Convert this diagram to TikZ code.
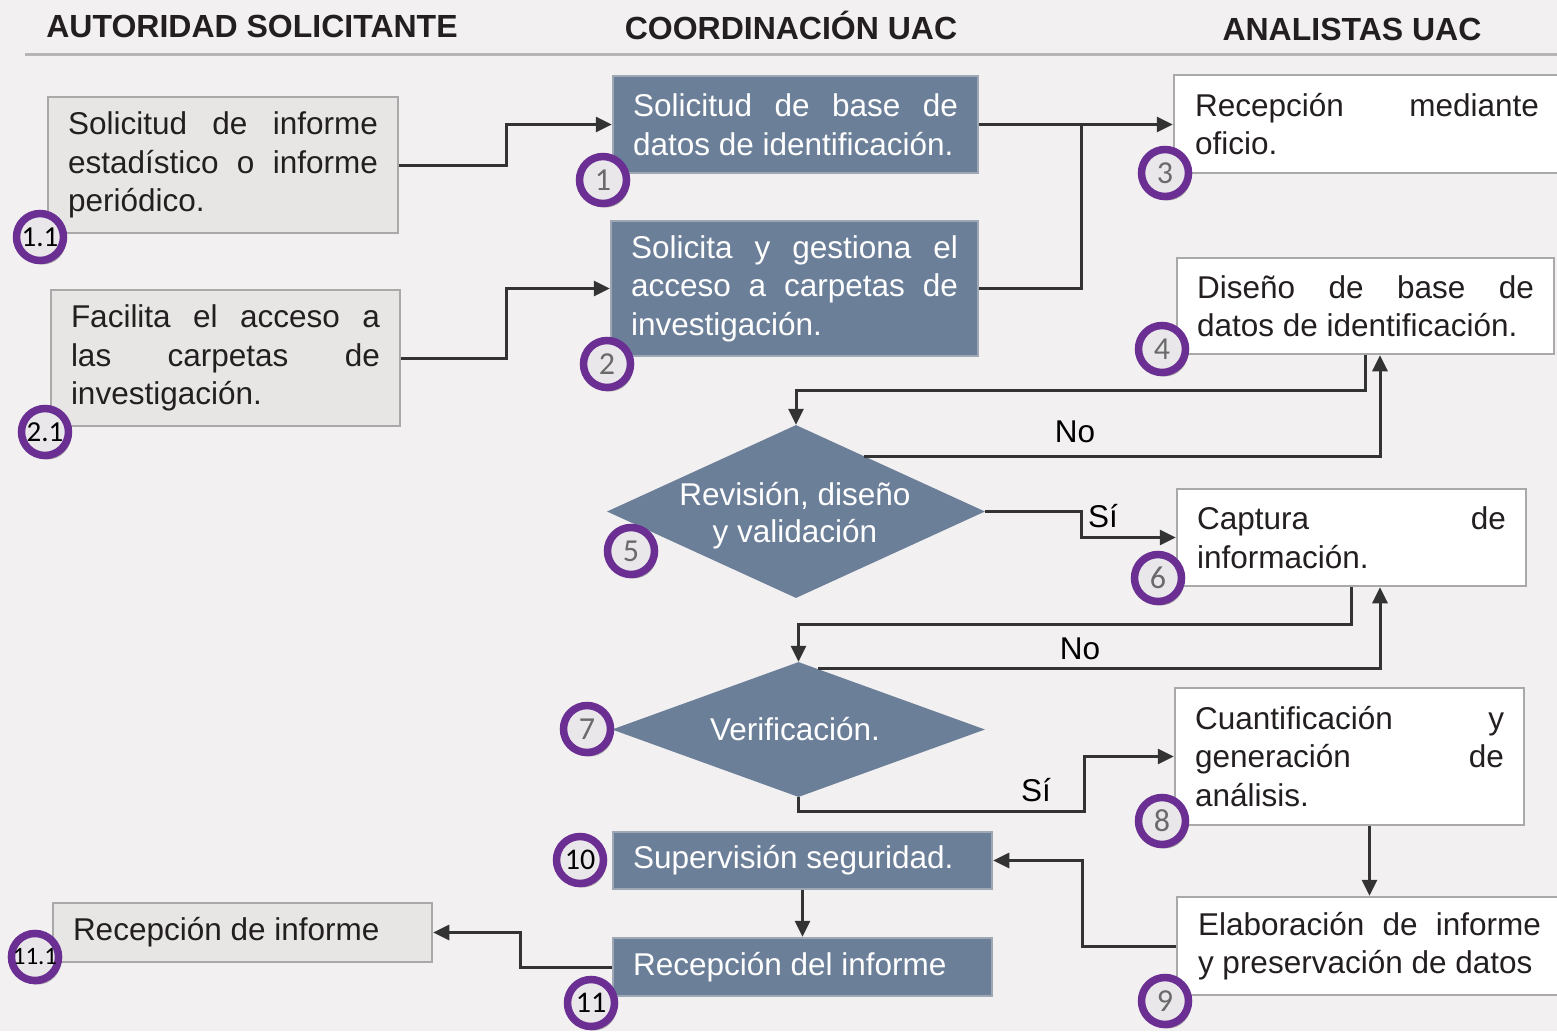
\documentclass[tikz,border=0pt]{standalone}
\usepackage{fontspec}
\setmainfont{Liberation Sans}
\newfontfamily\numfont{Carlito}
\usetikzlibrary{arrows.meta,shapes.geometric,shadows,calc}
\definecolor{bg}{HTML}{F2F0F1}
\definecolor{lboxf}{HTML}{E8E5E5}
\definecolor{lborder}{HTML}{A9A9A9}
\definecolor{bluef}{HTML}{6C7F99}
\definecolor{blueb}{HTML}{9EA7B4}
\definecolor{txt}{HTML}{231F20}
\definecolor{linec}{HTML}{333333}
\definecolor{purp}{HTML}{6B2E93}
\definecolor{badgef}{HTML}{E9E7E9}
\definecolor{numgray}{HTML}{6A6A6A}
\definecolor{hdrline}{HTML}{B5B5B5}
\begin{document}
\begin{tikzpicture}[x=1pt,y=-1pt,
  base/.style={font=\fontsize{31.5}{38.5}\selectfont, inner xsep=20pt, inner ysep=0pt, align=justify, line width=2.5pt},
  leftbox/.style={base, fill=lboxf, draw=lborder, text=txt},
  bluebox/.style={base, fill=bluef, draw=blueb, text=white},
  whitebox/.style={base, fill=white, draw=lborder, text=txt},
  dmd/.style={diamond, fill=bluef, inner sep=0pt},
  dtext/.style={font=\fontsize{31.5}{37}\selectfont, text=white, align=center, inner sep=0pt},
  hdr/.style={font=\fontsize{32}{36}\selectfont\bfseries, text=txt, inner sep=0pt},
  lbl/.style={font=\fontsize{31.5}{36}\selectfont, text=black, inner sep=0pt},
  plain/.style={line width=3pt, draw=linec},
  conn/.style={plain, -{Triangle[length=16pt,width=15pt]}},
  badge/.style={circle, draw=purp, line width=7.5pt, fill=badgef, minimum size=47pt, inner sep=0pt,
    drop shadow={shadow xshift=2.5pt, shadow yshift=-4pt, opacity=0.45, fill=black!70}},
  bone/.style={badge, font=\numfont\fontsize{32}{32}\selectfont, text=numgray},
  btwo/.style={badge, font=\numfont\fontsize{30}{30}\selectfont, text=black},
  bthree/.style={badge, font=\numfont\fontsize{29}{29}\selectfont, text=black},
  bfour/.style={badge, font=\numfont\fontsize{25}{25}\selectfont, text=black}
]
\useasboundingbox (0,0) rectangle (1557,1031);
\fill[bg] (0,0) rectangle (1557,1031);

% headers
\node[hdr] (h1) at (252,26) {AUTORIDAD SOLICITANTE};
\node[hdr] (h2) at (791,25) {COORDINACIÓN UAC};
\node[hdr] (h3) at (1352,29) {ANALISTAS UAC};
\draw[line width=3pt, hdrline] (25,54) -- (1557,54);

% left column
\node[leftbox, minimum width=350pt, minimum height=136pt, text width=310pt] (a11) at (223,165)
  {Solicitud de informe\linebreak estadístico o informe\linebreak periódico.};
\node[leftbox, minimum width=349pt, minimum height=136pt, text width=309pt] (a21) at (225.5,358)
  {Facilita el acceso a\linebreak las carpetas de\linebreak investigación.};
\node[leftbox, minimum width=379pt, minimum height=59pt, text width=339pt] (a111) at (242.5,932.5)
  {Recepción de informe};

% middle column
\node[bluebox, minimum width=365pt, minimum height=97pt, text width=325pt] (b1) at (795.5,124.5)
  {Solicitud de base de\linebreak datos de identificación.};
\node[bluebox, minimum width=367pt, minimum height=135pt, text width=327pt] (b2) at (794.5,288.5)
  {Solicita y gestiona el\linebreak acceso a carpetas de\linebreak investigación.};
\node[dmd, minimum width=378pt, minimum height=173pt] (d5) at (796,511.5) {};
\node[dtext] (t5) at (795,516) {Revisión, diseño\\ y validación};
\node[dmd, minimum width=373pt, minimum height=135pt] (d7) at (798.5,729.5) {};
\node[dtext] (t7) at (795,729) {Verificación.};
\node[bluebox, minimum width=379pt, minimum height=57pt, text width=339pt] (b10) at (802.5,860.5)
  {Supervisión seguridad.};
\node[bluebox, minimum width=379pt, minimum height=58pt, text width=339pt] (b11) at (802.5,967)
  {Recepción del informe};

% right column
\node[whitebox, minimum width=386pt, minimum height=98pt, text width=344pt, inner xsep=21pt] (w3) at (1367,124)
  {Recepción mediante\linebreak oficio.};
\node[whitebox, minimum width=377pt, minimum height=96pt, text width=337pt] (w4) at (1365.5,306)
  {Diseño de base de\linebreak datos de identificación.};
\node[whitebox, minimum width=349pt, minimum height=97pt, text width=309pt] (w6) at (1351.5,537.5)
  {Captura de\linebreak información.};
\node[whitebox, minimum width=349pt, minimum height=137pt, text width=309pt] (w8) at (1349.5,756.5)
  {Cuantificación y\linebreak generación de\linebreak análisis.};
\node[whitebox, minimum width=385pt, minimum height=98pt, text width=343pt, inner xsep=21pt] (w9) at (1369.5,946)
  {Elaboración de informe\linebreak y preservación de datos};

% connectors
\coordinate (j1) at (1081,124.5);
\draw[conn] (a11.east) -- ++(107,0) |- (b1.west);
\draw[conn] (a21.east) -- ++(105,0) |- (b2.west);
\draw[conn] (b1.east) -- (w3.west |- b1.east);
\draw[plain] (b2.east) -| (j1);
\draw[conn] (w4.south) -- ++(0,35) -| (d5.north);
\coordinate (d5no) at ($(d5.north)!0.36!(d5.east)$);
\draw[conn] (d5no) -| ([xshift=14.5pt]w4.south);
\draw[conn] (d5.east) -- ++(96,0) |- (w6.west);
\draw[conn] (w6.south) -- ++(0,37) -| (d7.north);
\coordinate (d7no) at ($(d7.north)!0.105!(d7.east)$);
\draw[conn] (d7no) -| ([xshift=28.5pt]w6.south);
\draw[conn] (d7.south) -- ++(0,14) -- ++(286,0) |- (w8.west);
\draw[conn] (w8.south -| w9.north) -- (w9.north);
\draw[conn] (w9.west) -- ++(-93,0) |- (b10.east);
\draw[conn] (b10.south) -- (b11.north);
\draw[conn] (b11.west) -- ++(-91,0) |- (a111.east);

% labels
\node[lbl] (no1) at (1075,432) {No};
\node[lbl] (si1) at (1103,516) {Sí};
\node[lbl] (no2) at (1080,649) {No};
\node[lbl] (si2) at (1036,790) {Sí};

% badges
\node[bthree] (c11) at (40,237) {1.1};
\node[bone] (c1) at (603,180) {1};
\node[bone] (c2) at (607,364) {2};
\node[bthree] (c21) at (45,432) {2.1};
\node[bone] (c3) at (1165,173) {3};
\node[bone] (c4) at (1162,349) {4};
\node[bone] (c5) at (631,551) {5};
\node[bone] (c6) at (1158,578) {6};
\node[bone] (c7) at (587,729) {7};
\node[bone] (c8) at (1162,821) {8};
\node[bone] (c9) at (1165,1001) {9};
\node[btwo] (c10) at (580,860) {10};
\node[btwo] (c110) at (591,1003) {11};
\node[bfour] (c111) at (35,957) {11.1};
\end{tikzpicture}
\end{document}
